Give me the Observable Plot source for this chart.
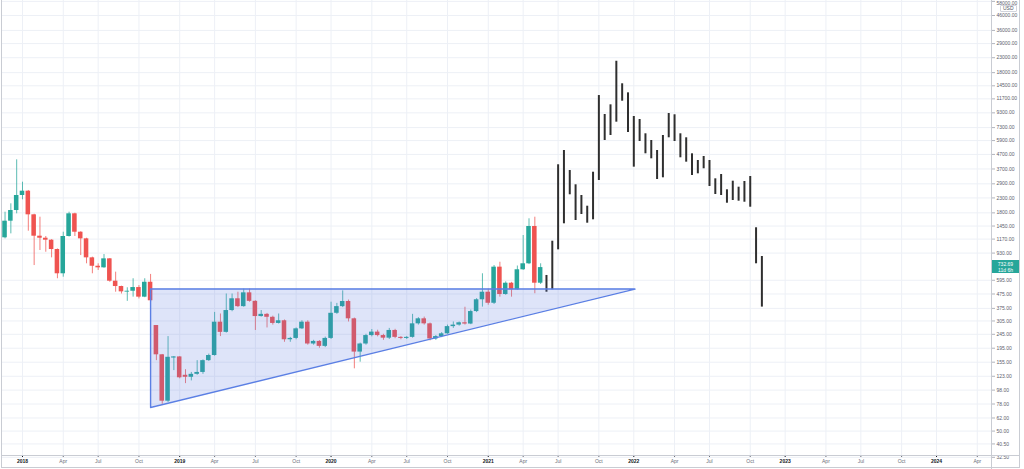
<!DOCTYPE html>
<html>
<head>
<meta charset="utf-8">
<script src="https://cdn.jsdelivr.net/npm/d3@7"></script>
<script src="https://cdn.jsdelivr.net/npm/@observablehq/plot@0.6"></script>
<style>
html,body{margin:0;padding:0;background:#fff;}
#wrap{position:relative;width:1024px;height:469px;overflow:hidden;font-family:"Liberation Sans",Arial,sans-serif;}
.ln{position:absolute;background:#c9ccd3;}
#usd{position:absolute;left:1000px;top:5px;padding:0 2px;font-size:5px;line-height:5px;color:#50535e;background:#fff;border:1px solid #d1d4dc;border-radius:1px;}
#price{position:absolute;left:992px;width:27px;height:13px;background:#26a69a;color:#fff;font-size:5px;line-height:6px;text-align:center;padding-top:1px;box-sizing:border-box;}
</style>
</head>
<body>
<div id="wrap"></div>
<script>
// 2-week candles (bar 0 = late Nov 2017), values in USD
const opens  = [1195,1570,1871,2394,2570,1743,1227,1187,1149,986,662,1221,1772,1310,1175,860,749,730,846,586,537,490,497,528,451,576,283,175,81.7,166,169,125,121,127,131,159,173,299,253,362,439,386,484,421,328,340,324,293,306,224,229,268,299,209,218,201,229,346,386,420,316,183,209,240,254,240,230,261,233,229,233,291,316,291,227,236,247,278,285,296,290,356,432,489,408,738,471,567,509,707,780,1439,567];
const highs  = [1820,2088,4300,2979,2600,1760,1676,1221,1160,995,1310,1820,1790,1320,1187,870,780,908,850,680,540,526,610,545,610,655,283,176,236,170,170,137,131,159,161,177,351,342,475,475,489,515,515,425,362,345,330,342,310,233,272,306,306,222,221,234,415,407,500,430,320,212,245,265,262,245,270,266,236,236,340,322,325,295,240,252,285,300,300,382,365,440,662,515,758,800,580,575,752,1241,1633,1676,780];
const lows   = [1175,1275,1772,2230,1332,758,970,943,860,610,626,1210,1221,893,780,662,699,725,576,489,475,421,451,438,447,414,159,77.6,80,135,118,109,114,125,127,157,171,236,250,355,380,382,415,261,325,272,285,290,215,215,224,265,205,205,195,197,225,340,380,300,139,155,205,235,235,222,225,228,224,225,230,285,285,220,222,232,245,270,280,285,287,350,383,395,400,451,465,451,505,700,770,477,555];
const closes = [1570,1871,2394,2570,1743,1227,1187,1149,986,662,1221,1772,1310,1175,860,749,730,846,586,537,492,497,528,451,576,425,175,81.7,168,169,120,121,127,131,159,173,299,253,362,439,386,484,421,328,340,324,293,306,224,229,268,299,209,218,201,229,346,386,420,316,183,209,240,254,240,230,261,233,229,233,291,316,291,227,236,247,278,285,296,290,356,432,489,408,738,471,567,509,707,780,1439,567,732.69];

// projected fractal (black high-low bars) following the last candle
const projHighs = [644,1130,3965,5012,3608,2854,2394,2008,3509,12360,9050,10610,21700,14990,12920,8760,8340,6594,5907,5012,6413,9200,9010,6594,6175,4748,4255,4542,4255,3148,3379,2629,3028,2744,3013,3270,1409,879];
const projLows  = [489,509,981,1504,2422,1588,1752,1519,1606,3063,5907,6413,7980,11260,6736,3812,5811,4748,4373,3112,3201,6175,5811,4446,4138,3324,3418,3713,2776,2434,2394,2109,2205,2180,2144,1975,780,383];

// ascending triangle drawing (bar index, price)
const triangleBars   = [25, 25, 108.2];
const trianglePrices = [515, 73.6, 515];

// axes
const tickBars   = [3,10,16,23,30,36,43,50,56,63,69,76,83,89,95,102,108,115,121,128,134,141,147,154,160,167];
const tickLabels = ["2018","Apr","Jul","Oct","2019","Apr","Jul","Oct","2020","Apr","Jul","Oct","2021","Apr","Jul","Oct","2022","Apr","Jul","Oct","2023","Apr","Jul","Oct","2024","Apr"];
const priceTicks = [58000,46000,36000,29000,23000,18000,14500,11700,9300,7300,5900,4700,3700,2900,2300,1800,1450,1170,930,595,475,375,305,245,195,155,123,98,78,62,50,40.5,32.5];
const lastPrice = 732.69;
const countdown = "11d 6h";

const candles = opens.map((o, i) => ({i, open: o, high: highs[i], low: lows[i], close: closes[i], up: closes[i] >= o}));
const proj = projHighs.map((h, j) => ({i: candles.length + j, high: h, low: projLows[j]}));
const triArea = [
  {x: triangleBars[1], y1: trianglePrices[1], y2: trianglePrices[0]},
  {x: triangleBars[2], y1: trianglePrices[2], y2: trianglePrices[2]}
];
const triLine = [0,1,2,0].map(k => ({x: triangleBars[k], y: trianglePrices[k]}));
const labelOf = new Map(tickBars.map((b, k) => [b, tickLabels[k]]));
const yearTicks = tickBars.filter((b, k) => /^\d{4}$/.test(tickLabels[k]));
const monthTicks = tickBars.filter((b, k) => !/^\d{4}$/.test(tickLabels[k]));
const topTick = priceTicks[0];

const UP = "#26a69a", DOWN = "#ef5350";

const chart = Plot.plot({
  width: 1024, height: 469,
  marginLeft: 1, marginRight: 33, marginTop: 0, marginBottom: 14,
  style: {fontFamily: "'Liberation Sans', Arial, sans-serif", background: "transparent", overflow: "visible"},
  x: {type: "linear", domain: [-0.607, 169.44], axis: null},
  y: {type: "log", domain: [33.49, 58850], axis: null},
  marks: [
    Plot.gridY(priceTicks, {stroke: "#edf0f6", strokeOpacity: 1}),
    Plot.gridX(tickBars, {stroke: "#edf0f6", strokeOpacity: 1}),
    Plot.ruleX(candles, {x: "i", y1: "low", y2: "high", stroke: d => d.up ? UP : DOWN, strokeOpacity: 0.75, strokeWidth: 1}),
    Plot.rect(candles, {x1: d => d.i - 0.39, x2: d => d.i + 0.39, y1: d => Math.min(d.open, d.close), y2: d => Math.max(d.open, d.close), fill: d => d.up ? UP : DOWN}),
    Plot.ruleX(proj, {x: "i", y1: "low", y2: "high", stroke: "#2f2f2f", strokeWidth: 2}),
    Plot.areaY(triArea, {x: "x", y1: "y1", y2: "y2", fill: "#5a78e0", fillOpacity: 0.2}),
    Plot.line(triLine, {x: "x", y: "y", stroke: "#5b7fe4", strokeWidth: 1.4, curve: "linear"}),
    Plot.axisY(priceTicks, {anchor: "right", tickSize: 3, tickFormat: () => "", stroke: "#b2b5be"}),
    Plot.text(priceTicks.filter(d => d !== topTick), {y: d => d, frameAnchor: "right", dx: 5, textAnchor: "start", fontSize: 5, fill: "#5d606b", text: d => d.toFixed(2), clip: false}),
    Plot.text([topTick], {y: d => d, frameAnchor: "right", dx: 5, dy: 2, textAnchor: "start", fontSize: 5, fill: "#5d606b", text: d => d.toFixed(2), clip: false}),
    Plot.axisX(monthTicks, {anchor: "bottom", tickSize: 2, tickPadding: 2, fontSize: 5, color: "#6a6d78", tickFormat: b => labelOf.get(b)}),
    Plot.axisX(yearTicks, {anchor: "bottom", tickSize: 2, tickPadding: 2, fontSize: 5, fontWeight: "bold", color: "#131722", tickFormat: b => labelOf.get(b)})
  ]
});

const wrap = document.getElementById("wrap");
wrap.appendChild(chart);

function line(l, t, w, h) {
  const d = document.createElement("div");
  d.className = "ln";
  Object.assign(d.style, {left: l + "px", top: t + "px", width: w + "px", height: h + "px"});
  wrap.appendChild(d);
}
line(1, 455, 1019, 1);   // time axis line
line(991, 0, 1, 469);    // price axis separator
line(1, 0, 1, 468);      // outer frame left
line(1019, 0, 1, 468);   // outer frame right
line(1, 467, 1019, 1);   // outer frame bottom

const usd = document.createElement("div");
usd.id = "usd"; usd.textContent = "USD";
wrap.appendChild(usd);

const py = chart.scale("y").apply(lastPrice);
const pr = document.createElement("div");
pr.id = "price";
pr.style.top = (py - 7) + "px";
pr.innerHTML = lastPrice.toFixed(2) + "<br>" + countdown;
wrap.appendChild(pr);
</script>
</body>
</html>
